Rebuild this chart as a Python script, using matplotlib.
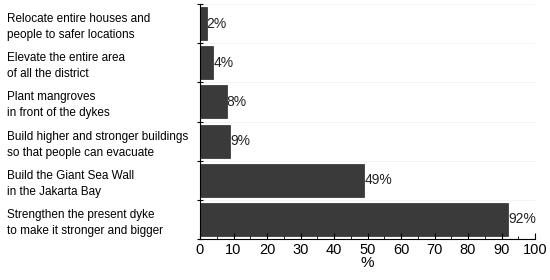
import matplotlib.pyplot as plt
import numpy as np

categorias = [
    "Strengthen the present dyke\nto make it stronger and bigger",
    "Build the Giant Sea Wall\nin the Jakarta Bay",
    "Build higher and stronger buildings\nso that people can evacuate",
    "Plant mangroves\nin front of the dykes",
    "Elevate the entire area\nof all the district",
    "Relocate entire houses and\npeople to safer locations",
]
porcentajes = [92, 49, 9, 8, 4, 2]
etiquetas = ["92%", "49%", "9%", "8%", "4%", "2%"]

plt.rcParams['font.family'] = ['Liberation Sans', 'DejaVu Sans']

fig = plt.figure(figsize=(5.5, 2.8), dpi=100)
ax = fig.add_axes([200 / 550, 41 / 280, 335 / 550, 235 / 280])

y = np.arange(len(categorias))
ax.barh(y, porcentajes, height=0.84, color='#3a3a3a', edgecolor='#2a2a2a', linewidth=0.5)

for yi, v, t in zip(y, porcentajes, etiquetas):
    ax.text(v, yi, t, ha='left', va='center', fontsize=10, color='#222222')

# lineas tenues entre categorias
for b in np.arange(-0.5, len(categorias), 1.0)[1:]:
    ax.axhline(b, color='#f3f3f3', linewidth=0.6, zorder=0)

ax.set_xlim(0, 100)
ax.set_ylim(-0.5, len(categorias) - 0.5)
ax.set_xticks(np.arange(0, 101, 10))
ax.set_xticks(np.arange(5, 100, 10), minor=True)
ax.set_yticks(y)
ax.set_yticklabels(categorias, ha='left', fontsize=8.5, linespacing=1.45)
ax.set_yticks(np.arange(-0.5, len(categorias), 1.0), minor=True)
ax.tick_params(axis='y', which='major', length=0, pad=193 * 0.72)
ax.tick_params(axis='y', which='minor', length=4, direction='inout', width=0.8)
ax.tick_params(axis='x', which='major', length=4, direction='in', labelsize=10.5, pad=3)
ax.tick_params(axis='x', which='minor', length=2, direction='in')
ax.set_xlabel("%", fontsize=11, labelpad=-1)

ax.spines['top'].set_visible(False)
ax.spines['right'].set_visible(False)

fig.savefig("out.png", dpi=100)
